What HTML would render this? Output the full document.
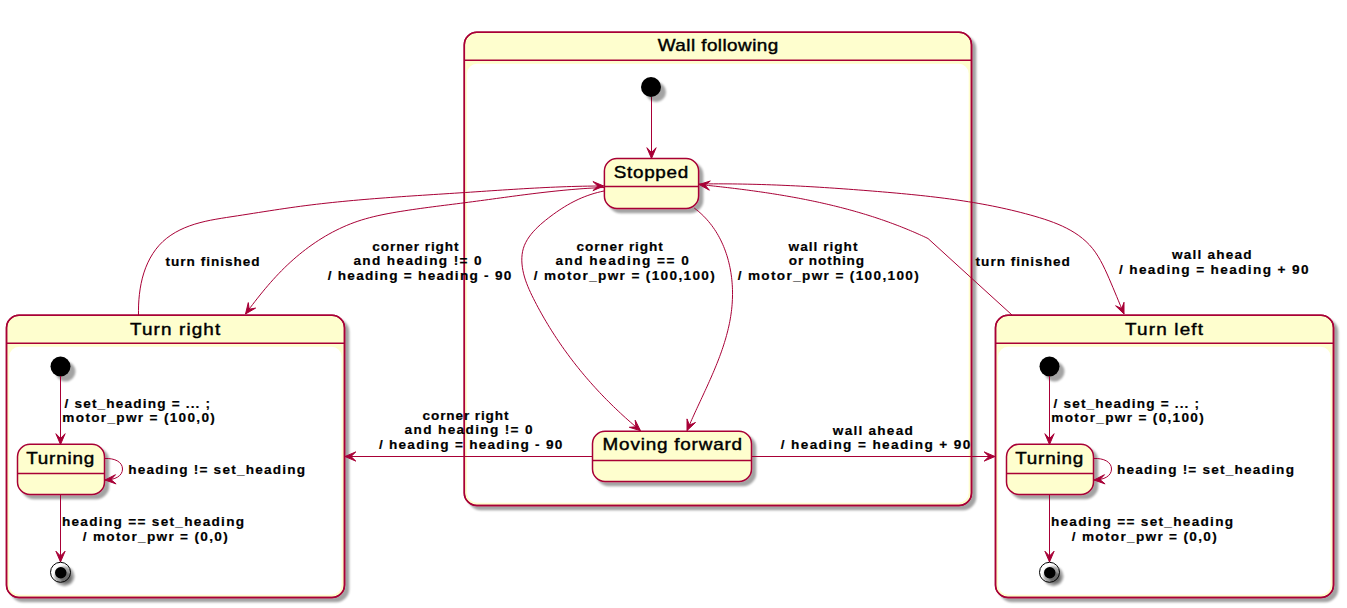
<!DOCTYPE html>
<html><head><meta charset="utf-8"><title>State diagram</title>
<style>
html,body{margin:0;padding:0;background:#FFFFFF;}
svg{display:block;}
.sn{font-family:"Liberation Sans",sans-serif;font-size:16px;fill:#000;stroke:#000;stroke-width:0.4px;}
.el{font-family:"Liberation Sans",sans-serif;font-size:13.6px;font-weight:bold;fill:#000;stroke:#000;stroke-width:0.2px;}
</style></head><body>
<svg width="1347" height="608" viewBox="0 0 1347 608">
<defs><filter id="sh" x="-1" y="-1" width="300%" height="300%"><feGaussianBlur result="blurOut" stdDeviation="0.9"/><feColorMatrix in="blurOut" result="blurOut2" type="matrix" values="0 0 0 0 0 0 0 0 0 0 0 0 0 0 0 0 0 0 .36 0"/><feOffset dx="4.4" dy="4.4" in="blurOut2" result="blurOut3"/><feBlend in="SourceGraphic" in2="blurOut3" mode="normal"/></filter><filter id="shc" x="-1" y="-1" width="300%" height="300%"><feGaussianBlur result="blurOut" stdDeviation="0.9"/><feColorMatrix in="blurOut" result="blurOut2" type="matrix" values="0 0 0 0 0 0 0 0 0 0 0 0 0 0 0 0 0 0 .36 0"/><feOffset dx="4.5" dy="4.5" in="blurOut2" result="blurOut3"/><feBlend in="SourceGraphic" in2="blurOut3" mode="normal"/></filter><filter id="shf" x="-1" y="-1" width="300%" height="300%"><feGaussianBlur result="blurOut" stdDeviation="1.5"/><feColorMatrix in="blurOut" result="blurOut2" type="matrix" values="0 0 0 0 0 0 0 0 0 0 0 0 0 0 0 0 0 0 .42 0"/><feOffset dx="3.5" dy="3.5" in="blurOut2" result="blurOut3"/><feBlend in="SourceGraphic" in2="blurOut3" mode="normal"/></filter><filter id="sho" x="-1" y="-1" width="300%" height="300%"><feGaussianBlur result="blurOut" stdDeviation="0.9"/><feColorMatrix in="blurOut" result="blurOut2" type="matrix" values="0 0 0 0 0 0 0 0 0 0 0 0 0 0 0 0 0 0 .36 0"/><feOffset dx="4" dy="4" in="blurOut2" result="blurOut3"/></filter></defs>
<rect x="464.3" y="32.3" width="507.2" height="473.2" rx="12.5" ry="12.5" fill="#FEFECE" stroke="#A80036" stroke-width="1.5" filter="url(#sh)"/>
<rect x="466.9" y="63.7" width="501.8" height="439.0" rx="10" ry="10" fill="#FFFFFF"/>
<rect x="464.3" y="32.3" width="507.2" height="473.2" rx="12.5" ry="12.5" fill="none" stroke="#A80036" stroke-width="1.5"/>
<line x1="464.3" y1="60.3" x2="971.5" y2="60.3" stroke="#A80036" stroke-width="1.5"/>
<text transform="translate(718.00,51.00) scale(1.180,1)" x="0" y="0" class="sn" text-anchor="middle" textLength="102.12" lengthAdjust="spacing">Wall following</text>
<rect x="6.5" y="315.3" width="338.0" height="282.2" rx="12.5" ry="12.5" fill="#FEFECE" stroke="#A80036" stroke-width="1.5" filter="url(#sh)"/>
<rect x="9.1" y="346.7" width="332.6" height="248.0" rx="10" ry="10" fill="#FFFFFF"/>
<rect x="6.5" y="315.3" width="338.0" height="282.2" rx="12.5" ry="12.5" fill="none" stroke="#A80036" stroke-width="1.5"/>
<line x1="6.5" y1="343.3" x2="344.5" y2="343.3" stroke="#A80036" stroke-width="1.5"/>
<text transform="translate(175.10,334.90) scale(1.180,1)" x="0" y="0" class="sn" text-anchor="middle" textLength="76.44" lengthAdjust="spacing">Turn right</text>
<rect x="995.5" y="315.3" width="338.0" height="282.2" rx="12.5" ry="12.5" fill="#FEFECE" stroke="#A80036" stroke-width="1.5" filter="url(#sh)"/>
<rect x="998.1" y="346.7" width="332.6" height="248.0" rx="10" ry="10" fill="#FFFFFF"/>
<rect x="995.5" y="315.3" width="338.0" height="282.2" rx="12.5" ry="12.5" fill="none" stroke="#A80036" stroke-width="1.5"/>
<line x1="995.5" y1="343.3" x2="1333.5" y2="343.3" stroke="#A80036" stroke-width="1.5"/>
<text transform="translate(1164.00,334.90) scale(1.180,1)" x="0" y="0" class="sn" text-anchor="middle" textLength="66.10" lengthAdjust="spacing">Turn left</text>
<line x1="651.5" y1="97" x2="651.5" y2="158" stroke="#A80036" stroke-width="1"/>
<polygon fill="#A80036" stroke="#A80036" stroke-width="1" points="651.5,158.5 646.9,147.7 651.5,152.5 656.1,147.7 651.5,158.5"/>
<rect x="604.4" y="158.5" width="94.2" height="50.0" rx="12.5" ry="12.5" fill="#FEFECE" stroke="#A80036" stroke-width="1.5" filter="url(#sh)"/>
<line x1="604.4" y1="186.5" x2="698.5" y2="186.5" stroke="#A80036" stroke-width="1.5"/>
<text transform="translate(651.00,177.70) scale(1.180,1)" x="0" y="0" class="sn" text-anchor="middle" textLength="63.14" lengthAdjust="spacing">Stopped</text>
<rect x="592.5" y="431.3" width="159.0" height="50.2" rx="12.5" ry="12.5" fill="#FEFECE" stroke="#A80036" stroke-width="1.5" filter="url(#sh)"/>
<line x1="592.5" y1="460.5" x2="751.5" y2="460.5" stroke="#A80036" stroke-width="1.5"/>
<text transform="translate(672.30,450.40) scale(1.180,1)" x="0" y="0" class="sn" text-anchor="middle" textLength="118.22" lengthAdjust="spacing">Moving forward</text>
<circle cx="651.00" cy="87.00" r="10" fill="#000" filter="url(#shc)"/>
<circle cx="60.50" cy="366.50" r="10" fill="#000" filter="url(#shc)"/>
<line x1="60.5" y1="376" x2="60.5" y2="444" stroke="#A80036" stroke-width="1"/>
<polygon fill="#A80036" stroke="#A80036" stroke-width="1" points="60.5,444.5 55.9,433.7 60.5,438.5 65.1,433.7 60.5,444.5"/>
<rect x="17.5" y="444.3" width="87.0" height="50.2" rx="12.5" ry="12.5" fill="#FEFECE" stroke="#A80036" stroke-width="1.5" filter="url(#sh)"/>
<line x1="17.5" y1="473.5" x2="104.5" y2="473.5" stroke="#A80036" stroke-width="1.5"/>
<text transform="translate(60.20,463.90) scale(1.180,1)" x="0" y="0" class="sn" text-anchor="middle" textLength="57.63" lengthAdjust="spacing">Turning</text>
<path d="M104.5,458.5 C115.0,458 122.5,462 122.5,469 C122.5,476 115.0,480 105.0,480" fill="none" stroke="#A80036" stroke-width="1"/>
<polygon fill="#A80036" stroke="#A80036" stroke-width="1" points="105.0,480.0 115.5,474.7 111.0,479.6 116.1,483.9 105.0,480.0"/>
<line x1="60.5" y1="495" x2="60.5" y2="562" stroke="#A80036" stroke-width="1"/>
<polygon fill="#A80036" stroke="#A80036" stroke-width="1" points="60.5,562.0 55.9,551.2 60.5,556.0 65.1,551.2 60.5,562.0"/>
<circle cx="60.50" cy="572.30" r="10" fill="#000" filter="url(#sho)"/>
<circle cx="60.50" cy="572.30" r="10" fill="none" stroke="#000" stroke-width="1"/>
<circle cx="60.75" cy="572.80" r="5.75" fill="#000" filter="url(#shc)"/>
<text x="137.3" y="407.7" class="el" text-anchor="middle" textLength="145.5" lengthAdjust="spacing">/ set_heading = ... ;</text>
<text x="138.6" y="422.2" class="el" text-anchor="middle" textLength="152.5" lengthAdjust="spacing">motor_pwr = (100,0)</text>
<text x="216.6" y="473.7" class="el" text-anchor="middle" textLength="176.9" lengthAdjust="spacing">heading != set_heading</text>
<text x="153.0" y="525.8" class="el" text-anchor="middle" textLength="182.2" lengthAdjust="spacing">heading == set_heading</text>
<text x="155.2" y="540.6" class="el" text-anchor="middle" textLength="145.0" lengthAdjust="spacing">/ motor_pwr = (0,0)</text>
<circle cx="1049.50" cy="366.50" r="10" fill="#000" filter="url(#shc)"/>
<line x1="1049.5" y1="376" x2="1049.5" y2="444" stroke="#A80036" stroke-width="1"/>
<polygon fill="#A80036" stroke="#A80036" stroke-width="1" points="1049.5,444.5 1044.9,433.7 1049.5,438.5 1054.1,433.7 1049.5,444.5"/>
<rect x="1006.5" y="444.3" width="87.0" height="50.2" rx="12.5" ry="12.5" fill="#FEFECE" stroke="#A80036" stroke-width="1.5" filter="url(#sh)"/>
<line x1="1006.5" y1="473.5" x2="1093.5" y2="473.5" stroke="#A80036" stroke-width="1.5"/>
<text transform="translate(1049.20,463.90) scale(1.180,1)" x="0" y="0" class="sn" text-anchor="middle" textLength="57.63" lengthAdjust="spacing">Turning</text>
<path d="M1093.5,458.5 C1104.0,458 1111.5,462 1111.5,469 C1111.5,476 1104.0,480 1094.0,480" fill="none" stroke="#A80036" stroke-width="1"/>
<polygon fill="#A80036" stroke="#A80036" stroke-width="1" points="1094.0,480.0 1104.5,474.7 1100.0,479.6 1105.1,483.9 1094.0,480.0"/>
<line x1="1049.5" y1="495" x2="1049.5" y2="562" stroke="#A80036" stroke-width="1"/>
<polygon fill="#A80036" stroke="#A80036" stroke-width="1" points="1049.5,562.0 1044.9,551.2 1049.5,556.0 1054.1,551.2 1049.5,562.0"/>
<circle cx="1049.50" cy="572.30" r="10" fill="#000" filter="url(#sho)"/>
<circle cx="1049.50" cy="572.30" r="10" fill="none" stroke="#000" stroke-width="1"/>
<circle cx="1049.75" cy="572.80" r="5.75" fill="#000" filter="url(#shc)"/>
<text x="1126.3" y="407.7" class="el" text-anchor="middle" textLength="145.5" lengthAdjust="spacing">/ set_heading = ... ;</text>
<text x="1127.5" y="422.2" class="el" text-anchor="middle" textLength="152.5" lengthAdjust="spacing">motor_pwr = (0,100)</text>
<text x="1205.5" y="473.7" class="el" text-anchor="middle" textLength="176.9" lengthAdjust="spacing">heading != set_heading</text>
<text x="1142.0" y="525.8" class="el" text-anchor="middle" textLength="182.2" lengthAdjust="spacing">heading == set_heading</text>
<text x="1144.2" y="540.6" class="el" text-anchor="middle" textLength="145.0" lengthAdjust="spacing">/ motor_pwr = (0,0)</text>
<line x1="592.5" y1="456.5" x2="345" y2="456.5" stroke="#A80036" stroke-width="1"/>
<polygon fill="#A80036" stroke="#A80036" stroke-width="1" points="345.0,456.5 355.8,451.9 351.0,456.5 355.8,461.1 345.0,456.5"/>
<line x1="751.5" y1="456.5" x2="995" y2="456.5" stroke="#A80036" stroke-width="1"/>
<polygon fill="#A80036" stroke="#A80036" stroke-width="1" points="995.0,456.5 984.2,461.1 989.0,456.5 984.2,451.9 995.0,456.5"/>
<path d="M604.00,191.00 L600.64,191.73 L597.35,192.54 L594.13,193.43 L590.97,194.41 L587.86,195.47 L584.81,196.61 L581.81,197.82 L578.85,199.12 L575.94,200.49 L573.06,201.94 L570.22,203.46 L567.42,205.05 L564.63,206.71 L561.88,208.44 L559.14,210.24 L556.42,212.11 L553.71,214.04 L551.00,216.03 L548.31,218.09 L545.62,220.21 L542.97,222.39 L540.37,224.64 L537.86,226.96 L535.45,229.36 L533.16,231.82 L531.02,234.36 L529.06,236.98 L527.29,239.69 L525.74,242.47 L524.43,245.34 L523.39,248.30 L522.62,251.34 L522.11,254.45 L521.85,257.62 L521.82,260.83 L522.00,264.07 L522.38,267.32 L522.93,270.57 L523.65,273.80 L524.51,277.00 L525.51,280.16 L526.62,283.28 L527.83,286.37 L529.13,289.43 L530.50,292.46 L531.93,295.47 L533.41,298.45 L534.92,301.42 L536.45,304.37 L538.01,307.30 L539.59,310.22 L541.20,313.12 L542.83,316.01 L544.48,318.87 L546.16,321.72 L547.85,324.56 L549.57,327.38 L551.32,330.18 L553.08,332.96 L554.87,335.73 L556.68,338.48 L558.51,341.21 L560.37,343.93 L562.25,346.63 L564.14,349.32 L566.06,351.98 L568.00,354.64 L569.96,357.27 L571.95,359.89 L573.95,362.49 L575.98,365.08 L578.02,367.64 L580.09,370.20 L582.17,372.73 L584.28,375.25 L586.40,377.75 L588.55,380.24 L590.72,382.70 L592.90,385.16 L595.11,387.59 L597.33,390.01 L599.57,392.41 L601.84,394.80 L604.12,397.17 L606.42,399.52 L608.74,401.85 L611.07,404.17 L613.43,406.48 L615.80,408.76 L618.19,411.03 L620.60,413.28 L623.03,415.52 L625.47,417.74 L627.93,419.94 L630.41,422.12 L632.91,424.29 L635.42,426.45 L637.95,428.58 L640.50,430.70" fill="none" stroke="#A80036" stroke-width="1" stroke-linejoin="round"/>
<polygon fill="#A80036" stroke="#A80036" stroke-width="1" points="640.5,430.7 629.3,427.3 635.9,426.8 635.2,420.2 640.5,430.7"/>
<path d="M694.20,208.00 L696.21,209.54 L698.16,211.13 L700.05,212.76 L701.88,214.45 L703.66,216.17 L705.38,217.94 L707.04,219.75 L708.64,221.61 L710.19,223.50 L711.68,225.43 L713.12,227.39 L714.50,229.40 L715.83,231.43 L717.11,233.50 L718.33,235.60 L719.49,237.73 L720.61,239.89 L721.67,242.08 L722.68,244.30 L723.64,246.53 L724.54,248.80 L725.40,251.08 L726.20,253.39 L726.96,255.71 L727.66,258.06 L728.32,260.42 L728.92,262.80 L729.48,265.19 L729.99,267.59 L730.45,270.01 L730.86,272.44 L731.23,274.88 L731.55,277.32 L731.83,279.77 L732.05,282.23 L732.24,284.69 L732.38,287.16 L732.47,289.62 L732.52,292.09 L732.52,294.55 L732.48,297.02 L732.40,299.48 L732.28,301.93 L732.11,304.38 L731.90,306.82 L731.66,309.25 L731.37,311.67 L731.04,314.09 L730.67,316.50 L730.27,318.90 L729.83,321.30 L729.36,323.69 L728.85,326.07 L728.31,328.44 L727.74,330.81 L727.14,333.17 L726.51,335.53 L725.85,337.88 L725.16,340.22 L724.45,342.56 L723.71,344.89 L722.95,347.22 L722.16,349.54 L721.35,351.86 L720.52,354.17 L719.67,356.48 L718.80,358.78 L717.91,361.07 L717.01,363.36 L716.09,365.65 L715.15,367.93 L714.20,370.21 L713.24,372.49 L712.26,374.76 L711.28,377.02 L710.28,379.28 L709.27,381.54 L708.26,383.80 L707.24,386.05 L706.21,388.30 L705.18,390.55 L704.15,392.79 L703.11,395.03 L702.07,397.27 L701.04,399.50 L700.00,401.73 L698.96,403.96 L697.92,406.19 L696.89,408.42 L695.87,410.64 L694.84,412.87 L693.83,415.09 L692.82,417.31 L691.82,419.52 L690.84,421.74 L689.86,423.96 L688.89,426.17 L687.94,428.39 L687.00,430.60" fill="none" stroke="#A80036" stroke-width="1" stroke-linejoin="round"/>
<polygon fill="#A80036" stroke="#A80036" stroke-width="1" points="687.0,430.6 687.0,418.9 689.4,425.1 695.5,422.5 687.0,430.6"/>
<path d="M138.50,315.50 L138.47,310.36 L138.59,305.09 L138.90,299.74 L139.42,294.33 L140.15,288.90 L141.12,283.50 L142.34,278.15 L143.85,272.91 L145.65,267.79 L147.75,262.84 L150.15,258.09 L152.86,253.55 L155.87,249.27 L159.18,245.28 L162.79,241.59 L166.71,238.23 L170.88,235.19 L175.30,232.44 L179.93,229.98 L184.73,227.78 L189.69,225.84 L194.77,224.14 L199.94,222.66 L205.20,221.37 L210.51,220.23 L215.86,219.23 L221.25,218.32 L226.64,217.46 L232.03,216.64 L237.39,215.82 L242.73,214.99 L248.05,214.16 L253.35,213.32 L258.63,212.49 L263.91,211.67 L269.16,210.85 L274.42,210.04 L279.66,209.25 L284.90,208.47 L290.14,207.71 L295.39,206.97 L300.64,206.26 L305.89,205.57 L311.15,204.91 L316.42,204.27 L321.69,203.66 L326.97,203.07 L332.25,202.51 L337.54,201.96 L342.83,201.44 L348.13,200.93 L353.43,200.44 L358.74,199.97 L364.05,199.51 L369.36,199.07 L374.68,198.64 L380.00,198.23 L385.32,197.83 L390.64,197.43 L395.97,197.05 L401.29,196.68 L406.62,196.31 L411.95,195.95 L417.29,195.60 L422.62,195.25 L427.95,194.91 L433.28,194.56 L438.61,194.22 L443.95,193.88 L449.28,193.54 L454.61,193.20 L459.93,192.85 L465.26,192.51 L470.59,192.16 L475.91,191.80 L481.23,191.44 L486.55,191.09 L491.87,190.73 L497.19,190.38 L502.51,190.03 L507.83,189.69 L513.15,189.36 L518.46,189.03 L523.78,188.71 L529.10,188.40 L534.42,188.11 L539.74,187.83 L545.06,187.56 L550.38,187.31 L555.70,187.08 L561.03,186.86 L566.35,186.67 L571.68,186.50 L577.01,186.35 L582.34,186.23 L587.68,186.13 L593.02,186.06 L598.36,186.01 L603.70,186.00" fill="none" stroke="#A80036" stroke-width="1" stroke-linejoin="round"/>
<polygon fill="#A80036" stroke="#A80036" stroke-width="1" points="603.7,186.0 592.9,190.7 597.7,186.0 592.9,181.5 603.7,186.0"/>
<path d="M604.00,187.50 L599.97,187.67 L595.95,187.86 L591.93,188.08 L587.92,188.32 L583.91,188.58 L579.91,188.87 L575.91,189.19 L571.91,189.52 L567.92,189.87 L563.93,190.24 L559.94,190.63 L555.96,191.04 L551.98,191.46 L548.00,191.90 L544.03,192.35 L540.05,192.81 L536.08,193.29 L532.11,193.78 L528.14,194.27 L524.17,194.78 L520.20,195.29 L516.24,195.81 L512.27,196.34 L508.31,196.87 L504.34,197.41 L500.37,197.94 L496.41,198.48 L492.44,199.02 L488.47,199.57 L484.50,200.11 L480.53,200.64 L476.56,201.18 L472.59,201.71 L468.61,202.23 L464.64,202.75 L460.66,203.26 L456.67,203.77 L452.69,204.27 L448.70,204.78 L444.72,205.28 L440.73,205.78 L436.74,206.29 L432.75,206.81 L428.77,207.33 L424.78,207.86 L420.79,208.41 L416.80,208.97 L412.82,209.54 L408.84,210.13 L404.85,210.75 L400.87,211.38 L396.90,212.03 L392.92,212.72 L388.95,213.43 L385.00,214.19 L381.06,215.00 L377.13,215.85 L373.23,216.77 L369.35,217.76 L365.49,218.82 L361.67,219.96 L357.88,221.19 L354.12,222.51 L350.41,223.92 L346.72,225.41 L343.08,227.00 L339.47,228.66 L335.91,230.41 L332.38,232.23 L328.88,234.14 L325.43,236.12 L322.02,238.18 L318.65,240.30 L315.32,242.50 L312.02,244.77 L308.77,247.10 L305.57,249.50 L302.40,251.96 L299.28,254.49 L296.19,257.07 L293.16,259.71 L290.16,262.40 L287.21,265.15 L284.31,267.95 L281.44,270.79 L278.63,273.69 L275.86,276.63 L273.13,279.61 L270.44,282.63 L267.79,285.68 L265.18,288.76 L262.61,291.87 L260.07,294.99 L257.57,298.14 L255.09,301.30 L252.65,304.47 L250.24,307.64 L247.86,310.82 L245.50,314.00" fill="none" stroke="#A80036" stroke-width="1" stroke-linejoin="round"/>
<polygon fill="#A80036" stroke="#A80036" stroke-width="1" points="245.5,314.0 248.3,302.6 249.1,309.2 255.6,308.1 245.5,314.0"/>
<path d="M1012.00,315.00 L928.00,238.50 L925.83,237.47 L923.66,236.46 L921.48,235.46 L919.29,234.48 L917.10,233.50 L914.91,232.54 L912.71,231.60 L910.51,230.66 L908.31,229.74 L906.10,228.83 L903.88,227.93 L901.66,227.05 L899.44,226.18 L897.21,225.32 L894.98,224.47 L892.75,223.63 L890.51,222.81 L888.27,221.99 L886.02,221.19 L883.77,220.40 L881.52,219.62 L879.26,218.86 L877.00,218.10 L874.74,217.35 L872.47,216.62 L870.20,215.90 L867.93,215.18 L865.65,214.48 L863.37,213.79 L861.09,213.11 L858.80,212.43 L856.51,211.77 L854.22,211.12 L851.92,210.48 L849.62,209.85 L847.32,209.22 L845.02,208.61 L842.71,208.01 L840.40,207.41 L838.09,206.83 L835.78,206.25 L833.46,205.68 L831.14,205.13 L828.82,204.58 L826.49,204.04 L824.17,203.50 L821.84,202.98 L819.51,202.46 L817.18,201.95 L814.84,201.46 L812.51,200.96 L810.17,200.48 L807.83,200.00 L805.48,199.53 L803.14,199.07 L800.79,198.62 L798.45,198.17 L796.10,197.73 L793.75,197.30 L791.40,196.88 L789.04,196.46 L786.69,196.05 L784.33,195.64 L781.97,195.24 L779.62,194.85 L777.26,194.46 L774.90,194.08 L772.53,193.71 L770.17,193.34 L767.81,192.98 L765.44,192.62 L763.08,192.27 L760.71,191.93 L758.34,191.59 L755.98,191.25 L753.61,190.92 L751.24,190.60 L748.87,190.28 L746.50,189.96 L744.13,189.65 L741.76,189.35 L739.39,189.05 L737.02,188.75 L734.65,188.46 L732.28,188.17 L729.90,187.88 L727.53,187.60 L725.16,187.33 L722.79,187.05 L720.42,186.78 L718.05,186.52 L715.68,186.26 L713.31,186.00 L710.94,185.74 L708.57,185.49 L706.20,185.24 L703.83,184.99 L701.47,184.74 L699.10,184.50" fill="none" stroke="#A80036" stroke-width="1" stroke-linejoin="round"/>
<polygon fill="#A80036" stroke="#A80036" stroke-width="1" points="699.1,184.5 710.3,181.0 705.1,185.1 709.4,190.2 699.1,184.5"/>
<path d="M699.00,184.00 L703.82,183.93 L708.65,183.89 L713.47,183.86 L718.30,183.85 L723.12,183.86 L727.95,183.89 L732.78,183.93 L737.61,183.99 L742.44,184.07 L747.27,184.16 L752.10,184.27 L756.93,184.39 L761.77,184.53 L766.60,184.68 L771.43,184.85 L776.26,185.03 L781.10,185.23 L785.93,185.44 L790.76,185.66 L795.59,185.89 L800.42,186.14 L805.26,186.40 L810.09,186.67 L814.92,186.95 L819.74,187.24 L824.57,187.55 L829.40,187.86 L834.23,188.18 L839.05,188.52 L843.87,188.86 L848.70,189.21 L853.52,189.57 L858.34,189.94 L863.16,190.31 L867.97,190.70 L872.79,191.09 L877.60,191.48 L882.41,191.88 L887.22,192.29 L892.02,192.71 L896.83,193.14 L901.63,193.58 L906.43,194.04 L911.23,194.50 L916.02,194.99 L920.82,195.49 L925.61,196.01 L930.39,196.55 L935.18,197.11 L939.96,197.69 L944.74,198.30 L949.52,198.93 L954.29,199.59 L959.06,200.28 L963.83,201.00 L968.59,201.75 L973.36,202.53 L978.11,203.35 L982.87,204.20 L987.62,205.09 L992.37,206.01 L997.12,206.98 L1001.86,207.99 L1006.59,209.04 L1011.33,210.14 L1016.06,211.28 L1020.79,212.46 L1025.51,213.70 L1030.23,214.98 L1034.95,216.32 L1039.65,217.72 L1044.32,219.20 L1048.94,220.76 L1053.51,222.44 L1058.00,224.23 L1062.40,226.16 L1066.69,228.25 L1070.86,230.50 L1074.89,232.93 L1078.77,235.56 L1082.48,238.41 L1086.01,241.48 L1089.33,244.79 L1092.44,248.36 L1095.33,252.19 L1098.00,256.27 L1100.49,260.53 L1102.82,264.93 L1105.01,269.43 L1107.10,273.98 L1109.10,278.53 L1111.04,283.05 L1112.93,287.53 L1114.79,291.98 L1116.63,296.40 L1118.46,300.80 L1120.29,305.20 L1122.13,309.59 L1124.00,314.00" fill="none" stroke="#A80036" stroke-width="1" stroke-linejoin="round"/>
<polygon fill="#A80036" stroke="#A80036" stroke-width="1" points="1124.0,314.0 1115.6,305.8 1121.7,308.5 1124.0,302.3 1124.0,314.0"/>
<text x="415.4" y="250.6" class="el" text-anchor="middle" textLength="86.3" lengthAdjust="spacing">corner right</text>
<text x="417.5" y="265.4" class="el" text-anchor="middle" textLength="128.2" lengthAdjust="spacing">and heading != 0</text>
<text x="419.5" y="280.3" class="el" text-anchor="middle" textLength="183.6" lengthAdjust="spacing">/ heading = heading - 90</text>
<text x="619.6" y="250.6" class="el" text-anchor="middle" textLength="86.3" lengthAdjust="spacing">corner right</text>
<text x="622.1" y="265.4" class="el" text-anchor="middle" textLength="133.4" lengthAdjust="spacing">and heading == 0</text>
<text x="624.2" y="280.3" class="el" text-anchor="middle" textLength="181.1" lengthAdjust="spacing">/ motor_pwr = (100,100)</text>
<text x="823.0" y="250.6" class="el" text-anchor="middle" textLength="68.9" lengthAdjust="spacing">wall right</text>
<text x="826.4" y="265.4" class="el" text-anchor="middle" textLength="75.5" lengthAdjust="spacing">or nothing</text>
<text x="828.2" y="280.3" class="el" text-anchor="middle" textLength="181.1" lengthAdjust="spacing">/ motor_pwr = (100,100)</text>
<text x="212.6" y="265.9" class="el" text-anchor="middle" textLength="94.1" lengthAdjust="spacing">turn finished</text>
<text x="1022.7" y="265.9" class="el" text-anchor="middle" textLength="94.2" lengthAdjust="spacing">turn finished</text>
<text x="1211.8" y="258.7" class="el" text-anchor="middle" textLength="79.7" lengthAdjust="spacing">wall ahead</text>
<text x="1213.7" y="273.5" class="el" text-anchor="middle" textLength="189.6" lengthAdjust="spacing">/ heading = heading + 90</text>
<text x="465.5" y="419.5" class="el" text-anchor="middle" textLength="86.0" lengthAdjust="spacing">corner right</text>
<text x="468.6" y="434.3" class="el" text-anchor="middle" textLength="128.0" lengthAdjust="spacing">and heading != 0</text>
<text x="470.6" y="449.1" class="el" text-anchor="middle" textLength="183.4" lengthAdjust="spacing">/ heading = heading - 90</text>
<text x="872.8" y="434.5" class="el" text-anchor="middle" textLength="79.9" lengthAdjust="spacing">wall ahead</text>
<text x="875.5" y="449.3" class="el" text-anchor="middle" textLength="189.4" lengthAdjust="spacing">/ heading = heading + 90</text>
</svg>
</body></html>
